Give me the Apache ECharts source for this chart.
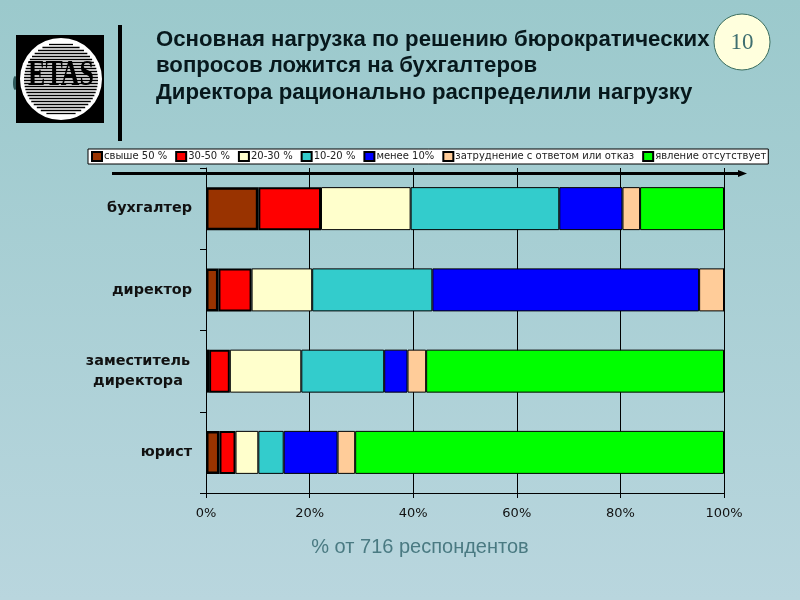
<!DOCTYPE html>
<html><head><meta charset="utf-8">
<style>html,body{margin:0;padding:0;background:#a8cfd3}#c{width:800px;height:600px}</style>
<script src="https://cdn.jsdelivr.net/npm/echarts@6/dist/echarts.min.js"></script>
</head><body><div id="c"></div>
<script>
const categories = ['бухгалтер','директор','заместитель\nдиректора','юрист'];
const over50   = [10.1, 2.4, 0.6, 2.6];
const from30   = [12.1, 6.4, 4.0, 3.1];
const from20   = [17.3, 11.7, 13.8, 4.4];
const from10   = [28.7, 23.2, 16.0, 4.9];
const under10  = [12.2, 51.5, 4.5, 10.4];
const refused  = [3.4, 4.8, 3.6, 3.4];
const absent   = [16.2, 0, 57.5, 71.2];
const seriesNames = ['свыше 50 %','30-50 %','20-30 %','10-20 %','менее 10%','затруднение с ответом или отказ','явление отсутствует'];
const seriesValues = [over50, from30, from20, from10, under10, refused, absent];
const colors = ['#993300','#ff0000','#ffffcc','#33cccc','#0000ff','#ffcc99','#00ff00'];
const borders = [2.5, 2, 1, 1, 1, 1, 1];
const titleLines = ['Основная нагрузка по решению бюрократических','вопросов ложится на бухгалтеров','Директора рационально распределили нагрузку'];

const logoLines = [];
for (let y = 44; y <= 114; y += 3) {
  const dy = y - 79, half = Math.sqrt(Math.max(0, 37*37 - dy*dy));
  logoLines.push({type:'line', z:6, shape:{x1:61-half, y1:y+0.5, x2:61+half, y2:y+0.5}, style:{stroke:'#000', lineWidth:1.3}});
}
const labelFont = {fontFamily:'DejaVu Sans',fontWeight:'bold',fontSize:14.4,color:'#111'};
const chart = echarts.init(document.getElementById('c'), null, {renderer:'canvas'});
chart.setOption({
  animation:false,
  backgroundColor:new echarts.graphic.LinearGradient(0,0,0,1,[{offset:0,color:'#9bc9cc'},{offset:1,color:'#b9d6de'}]),
  textStyle:{fontFamily:'DejaVu Sans'},
  legend:{
    left:88, top:149, padding:[2,2,2,3], itemGap:8, itemWidth:10, itemHeight:9,
    backgroundColor:'#fff', borderColor:'#000', borderWidth:1, borderRadius:0,
    icon:'rect', data:seriesNames,
    textStyle:{fontFamily:'DejaVu Sans', fontSize:10, color:'#222', padding:[0,0,0,-3]}
  },
  grid:{left:206, right:76, top:168, bottom:107},
  xAxis:{type:'value', min:0, max:100, interval:20,
    axisLine:{show:true,lineStyle:{color:'#000',width:1}},
    axisTick:{show:true,length:5,lineStyle:{color:'#000'}},
    axisLabel:{formatter:'{value}%',fontFamily:'DejaVu Sans',fontSize:13,color:'#111',margin:14},
    splitLine:{show:true,lineStyle:{color:'#000',width:1}}},
  yAxis:{type:'category', inverse:true, data:categories,
    axisLine:{show:true,lineStyle:{color:'#000',width:1}},
    axisTick:{show:true,length:6,lineStyle:{color:'#000'}},
    axisLabel:{...labelFont,margin:14,lineHeight:20,align:'right',
      formatter:v=>v.includes('\n')?v.split('\n').map(s=>'{c|'+s+'}').join('\n'):v,
      rich:{c:{...labelFont,width:108,align:'center',lineHeight:20}}}},
  series:seriesNames.map((n,i)=>({
    name:n,type:'bar',stack:'t',barWidth:43,data:seriesValues[i],z:i===0?3:2,
    itemStyle:{color:colors[i],borderColor:'#000',borderWidth:borders[i]}
  })),
  graphic:[
    {type:'rect',z:5,shape:{x:16,y:35,width:88,height:88},style:{fill:'#000'}},
    {type:'circle',z:5,shape:{cx:61,cy:79,r:41},style:{fill:'#fff'}},
    {type:'ellipse',z:4,shape:{cx:15,cy:83,rx:2,ry:7},style:{fill:'#2f5a5c'}},
    ...logoLines,
    {type:'text',z:7,x:61,y:76,scaleX:0.72,style:{x:0,y:0,text:'ETAS',align:'center',verticalAlign:'middle',font:'bold 36px "Liberation Serif"',fill:'#000'}},
    {type:'line',z:5,shape:{x1:120,y1:25,x2:120,y2:141},style:{stroke:'#000',lineWidth:4}},
    ...titleLines.map((t,i)=>({type:'text',z:5,style:{x:156,y:[39.5,65.5,92.5][i],text:t,verticalAlign:'middle',font:'bold 22.2px "Liberation Sans"',fill:'#07181c'}})),
    {type:'circle',z:5,shape:{cx:742,cy:42,r:28},style:{fill:'#ffffdd',stroke:'#3c6e5e',lineWidth:1}},
    {type:'text',z:6,style:{x:742,y:43,text:'10',align:'center',verticalAlign:'middle',font:'23px "Liberation Serif"',fill:'#3f6f70'}},
    {type:'line',z:5,shape:{x1:112,y1:173.5,x2:740,y2:173.5},style:{stroke:'#000',lineWidth:3}},
    {type:'polygon',z:5,shape:{points:[[738,170],[747,173.5],[738,177]]},style:{fill:'#000'}},
    {type:'text',z:5,style:{x:420,y:547,text:'% от 716 респондентов',align:'center',verticalAlign:'middle',font:'20px "Liberation Sans"',fill:'#4a7a82'}}
  ]
});
</script></body></html>
